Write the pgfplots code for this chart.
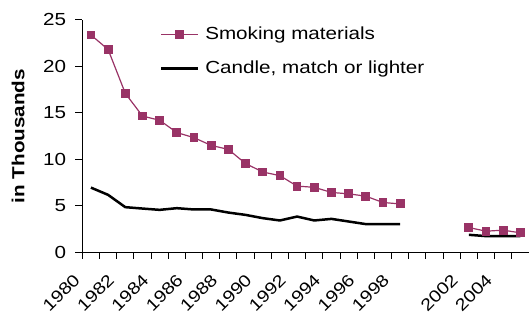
\documentclass[border=0pt]{standalone}
\usepackage{pgfplots}
\pgfplotsset{compat=1.18}
\usepackage{fontspec}
\setmainfont{Liberation Sans}[FakeStretch=1.18]
\definecolor{plum}{HTML}{993366}
\begin{document}
\fontsize{17.5bp}{21bp}\selectfont
\begin{tikzpicture}
\begin{axis}[
  scale only axis,
  width=447bp, height=233bp,
  xmin=1979.5, xmax=2005.5,
  ymin=0, ymax=25,
  axis x line=bottom, axis y line=left,
  axis line style={-, line width=1bp, black},
  unbounded coords=jump,
  xtick={1980,1982,...,1998,2002,2004},
  major x tick style={draw=none},
  minor xtick={1979.5,1980.5,...,2005.5},
  minor tick length=6bp,
  minor x tick style={line width=1bp, black},
  ytick={0,5,...,25},
  major tick length=7bp,
  tick align=outside,
  major y tick style={line width=1bp, black},
  /pgf/number format/assume math mode=true,
  xticklabel={\pgfmathprintnumber[1000 sep={}]{\tick}},
  xticklabel style={xshift=-14bp, yshift=-17.5bp, rotate=45, anchor=east, inner sep=0pt, font=\fontsize{16.8bp}{20bp}\selectfont},
  yticklabel style={anchor=east, inner sep=0pt, xshift=-9bp},
  ylabel={in Thousands},
  every axis y label/.style={at={(rel axis cs:0,0.5)}, xshift=-58bp, rotate=90, anchor=base, font=\bfseries},
  legend style={at={(rel axis cs:0.1735,0.968)}, anchor=north west, draw=none, fill=none,
    inner sep=0pt, outer sep=0pt, nodes={inner sep=0pt}, row sep=18.5bp, column sep=6bp},
  legend cell align=left,
  legend image code/.code={\draw[mark repeat=2,mark phase=2,#1] plot coordinates {(0bp,0bp) (18.5bp,0bp) (37bp,0bp)};},
]
\coordinate (bl) at (rel axis cs:0,0);
\coordinate (tr) at (rel axis cs:1,1);
\addplot[color=plum, line width=1.2bp, mark=square*, mark size=3.8bp, mark options={fill=plum, draw=plum}] coordinates {
(1980,23.36) (1981,21.8) (1982,17.1) (1983,14.65) (1984,14.2) (1985,12.88) (1986,12.33)
(1987,11.5) (1988,11.07) (1989,9.55) (1990,8.65) (1991,8.25) (1992,7.13) (1993,7.0)
(1994,6.45) (1995,6.3) (1996,6.05) (1997,5.37) (1998,5.22) (1999,nan)
(2002,2.68) (2003,2.29) (2004,2.4) (2005,2.11)
};
\addlegendentry{Smoking materials}
\addplot[color=black, line width=2.5bp, mark=none] coordinates {
(1980,6.97) (1981,6.19) (1982,4.87) (1983,4.72) (1984,4.58) (1985,4.76) (1986,4.62)
(1987,4.62) (1988,4.29) (1989,4.04) (1990,3.69) (1991,3.44) (1992,3.86) (1993,3.44)
(1994,3.61) (1995,3.33) (1996,3.05) (1997,3.05) (1998,3.05) (1999,nan)
(2002,1.9) (2003,1.76) (2004,1.76) (2005,1.76)
};
\addlegendentry{Candle, match or lighter}
\end{axis}
\pgfresetboundingbox
\path (bl) ++(-82.4bp,-59.3bp) rectangle ([shift={(0bp,19.7bp)}]tr);
\end{tikzpicture}
\end{document}
